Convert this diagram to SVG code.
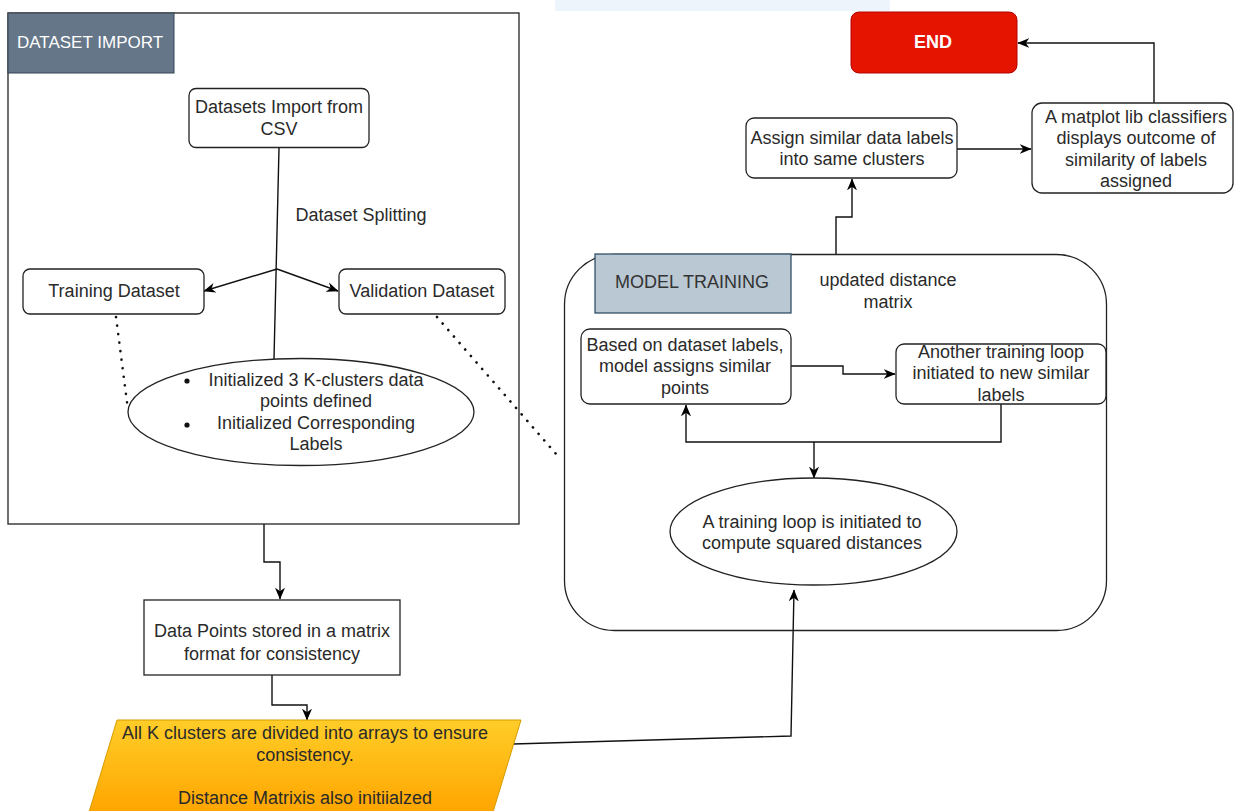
<svg xmlns="http://www.w3.org/2000/svg" width="1235" height="811" viewBox="0 0 1235 811">
<defs>
<linearGradient id="yg" x1="0" y1="0" x2="0" y2="1"><stop offset="0" stop-color="#ffcd28"/><stop offset="1" stop-color="#ffa500"/></linearGradient>
<marker id="ah" markerUnits="userSpaceOnUse" markerWidth="12" markerHeight="12" viewBox="0 0 10 10" refX="9.5" refY="5" orient="auto"><path d="M0,0.8 L10,5 L0,9.2 L3,5 z" fill="#000"/></marker>
<style>
text{font-family:"Liberation Sans",Arial,sans-serif;font-size:18px;fill:#2a2a2a;text-anchor:middle;dominant-baseline:central}
.box{fill:#fff;stroke:#222;stroke-width:1.3}
.c{fill:none;stroke:#111;stroke-width:1.4}
.a{marker-end:url(#ah)}
.dot{fill:none;stroke:#111;stroke-width:2.6;stroke-linecap:round;stroke-dasharray:0.1 8.5}
</style>
</defs>
<rect width="1235" height="811" fill="#fff"/>
<rect x="555" y="0" width="335" height="11" fill="#edf4fc"/>

<g id="dataset-import">
<rect x="8" y="13" width="511" height="511" fill="#fff" stroke="#222" stroke-width="1.3"/>
<rect x="8" y="13" width="166" height="60" fill="#647687" stroke="#314354" stroke-width="1"/>
<text x="90" y="42" style="fill:#fff;font-size:17px">DATASET IMPORT</text>
</g>

<g id="model-training">
<rect x="564.5" y="254.5" width="542" height="376" rx="50" ry="50" class="box"/>
<rect x="595" y="254" width="196" height="59" fill="#bac8d3" stroke="#23445d" stroke-width="1.2"/>
<text x="692" y="282" style="fill:#333">MODEL TRAINING</text>
</g>

<g id="connectors">
<line x1="279" y1="148" x2="274" y2="359" class="c"/>
<line x1="277" y1="269" x2="204" y2="291" class="c a"/>
<line x1="277" y1="269" x2="338" y2="291" class="c a"/>
<line x1="116" y1="317" x2="128" y2="410" class="dot"/>
<line x1="437" y1="317" x2="557" y2="455" class="dot"/>
<polyline points="264,524 264,562 280,562 280,599" class="c a"/>
<polyline points="272,675 272,705 307,705 307,720" class="c a"/>
<polyline points="513,744 791,736 794,590" class="c a"/>
<polyline points="791,366 843,366 843,374 895,374" class="c a"/>
<polyline points="1001,404 1001,442 686,442 686,405" class="c a"/>
<line x1="814" y1="442" x2="814" y2="478" class="c a"/>
<polyline points="836,254 836,217 852,217 852,179" class="c a"/>
<line x1="957" y1="149" x2="1031" y2="149" class="c a"/>
<polyline points="1154,103 1154,43 1018,43" class="c a"/>
</g>

<g id="datasets-import-csv">
<rect x="189" y="88.5" width="180" height="59" rx="7" class="box"/>
<text x="279" y="107">Datasets Import from</text>
<text x="279" y="129">CSV</text>
</g>

<g id="dataset-splitting-label">
<text x="361" y="215">Dataset Splitting</text>
</g>

<g id="training-dataset">
<rect x="23" y="269" width="181" height="45" rx="7" class="box"/>
<text x="114" y="291">Training Dataset</text>
</g>

<g id="validation-dataset">
<rect x="339" y="269" width="166" height="45" rx="7" class="box"/>
<text x="422" y="291">Validation Dataset</text>
</g>

<g id="init-ellipse">
<ellipse cx="301" cy="412" rx="173" ry="53.5" class="box"/>
<circle cx="187" cy="381" r="2.6" fill="#111"/>
<text x="316" y="380">Initialized 3 K-clusters data</text>
<text x="316" y="401">points defined</text>
<circle cx="187" cy="425" r="2.6" fill="#111"/>
<text x="316" y="423">Initialized Corresponding</text>
<text x="316" y="444">Labels</text>
</g>

<g id="data-points">
<rect x="144" y="600" width="256" height="75" class="box"/>
<text x="272" y="631">Data Points stored in a matrix</text>
<text x="272" y="654">format for consistency</text>
</g>

<g id="k-clusters">
<polygon points="117,720 521,720 493,812 89,812" fill="url(#yg)" stroke="#d79b00" stroke-width="1"/>
<text x="305" y="733">All K clusters are divided into arrays to ensure</text>
<text x="305" y="755">consistency.</text>
<text x="305" y="798">Distance Matrixis also initiialzed</text>
</g>

<g id="updated-distance-label">
<text x="888" y="280">updated distance</text>
<text x="888" y="302">matrix</text>
</g>

<g id="based-on-labels">
<rect x="581" y="329" width="210" height="75" rx="9" class="box"/>
<text x="685" y="345">Based on dataset labels,</text>
<text x="685" y="366">model assigns similar</text>
<text x="685" y="388">points</text>
</g>

<g id="another-loop">
<rect x="896" y="344" width="210" height="60" rx="8" class="box"/>
<text x="1001" y="352">Another training loop</text>
<text x="1001" y="373">initiated to new similar</text>
<text x="1001" y="395">labels</text>
</g>

<g id="training-loop">
<ellipse cx="813.5" cy="531.5" rx="143.5" ry="53.5" class="box"/>
<text x="812" y="522">A training loop is initiated to</text>
<text x="812" y="543">compute squared distances</text>
</g>

<g id="assign-labels">
<rect x="746" y="118" width="211" height="60" rx="8" class="box"/>
<text x="852" y="138">Assign similar data labels</text>
<text x="852" y="159">into same clusters</text>
</g>

<g id="matplotlib">
<rect x="1032" y="103" width="201" height="90" rx="10" class="box"/>
<text x="1136" y="117">A matplot lib classifiers</text>
<text x="1136" y="138">displays outcome of</text>
<text x="1136" y="160">similarity of labels</text>
<text x="1136" y="181">assigned</text>
</g>

<g id="end">
<rect x="851" y="12" width="166" height="61" rx="8" fill="#e51400" stroke="#b20000" stroke-width="1"/>
<text x="933" y="42" style="fill:#fff;font-weight:bold;font-size:18px">END</text>
</g>
</svg>
